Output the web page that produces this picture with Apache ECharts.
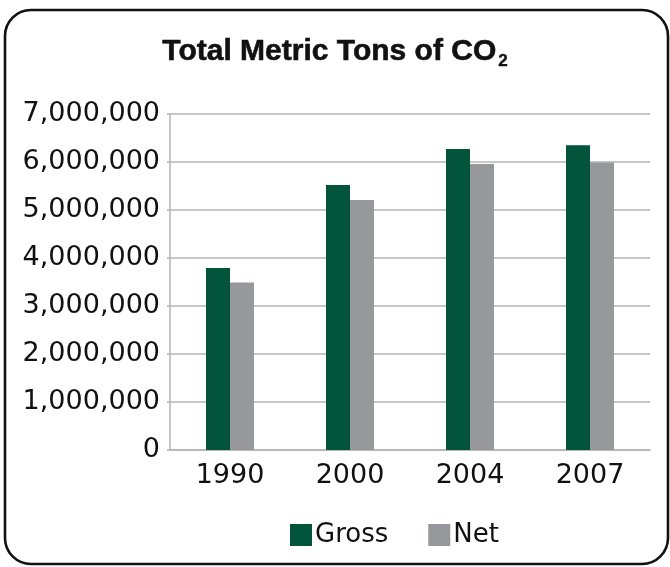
<!DOCTYPE html>
<html>
<head>
<meta charset="utf-8">
<script src="https://cdn.jsdelivr.net/npm/echarts@6/dist/echarts.min.js"></script>
<style>
  html, body { margin: 0; padding: 0; background: #ffffff; }
  #chart { width: 670px; height: 567px; }
</style>
</head>
<body>
<div id="chart"></div>
<script>
// Annual CO2 totals (metric tons)
const years = ['1990', '2000', '2004', '2007'];
const gross = [3790000, 5520000, 6270000, 6350000];
const net = [3490000, 5210000, 5960000, 5990000];
const seriesNames = ['Gross', 'Net'];

const GREEN = '#02553b';
const GRAY = '#97989b';
const GRID_LINE = '#b4b4b4';
const TEXT = '#111111';
const LABEL_FONT = '"DejaVu Sans", sans-serif';
const TITLE_FONT = '"Liberation Sans", Arial, sans-serif';

function withCommas(v) {
  return String(v).replace(/\B(?=(\d{3})+(?!\d))/g, ',');
}

const chart = echarts.init(document.getElementById('chart'), null, { renderer: 'canvas' });

chart.setOption({
  backgroundColor: '#ffffff',
  animation: false,
  graphic: [{
    type: 'rect',
    shape: { x: 5, y: 10, width: 663, height: 554, r: 26 },
    style: { fill: 'none', stroke: '#111111', lineWidth: 2.6 },
    silent: true,
    z: 100
  }],
  title: {
    text: '{t|Total Metric Tons of CO}{s|2}',
    left: 'center',
    top: 29,
    textStyle: {
      rich: {
        t: {
          fontFamily: TITLE_FONT,
          fontWeight: 'bold',
          fontSize: 30,
          color: TEXT,
          textBorderColor: TEXT,
          textBorderWidth: 0.6
        },
        s: {
          fontFamily: TITLE_FONT,
          fontWeight: 'bold',
          fontSize: 17,
          color: TEXT,
          textBorderColor: TEXT,
          textBorderWidth: 0.4,
          padding: [19, 0, 0, 2]
        }
      }
    }
  },
  legend: {
    data: seriesNames,
    left: 285,
    top: 517,
    icon: 'rect',
    itemWidth: 22,
    itemHeight: 22,
    itemGap: 40,
    textStyle: {
      fontFamily: LABEL_FONT,
      fontSize: 26,
      color: TEXT,
      padding: [0, 0, 0, -2]
    }
  },
  grid: {
    left: 170,
    right: 20,
    top: 114,
    bottom: 117,
    containLabel: false
  },
  xAxis: {
    type: 'category',
    data: years,
    axisLine: { show: true, lineStyle: { color: GRID_LINE, width: 1.5 } },
    axisTick: { show: false },
    axisLabel: {
      fontFamily: LABEL_FONT,
      fontSize: 27,
      color: TEXT,
      margin: 12
    }
  },
  yAxis: {
    type: 'value',
    min: 0,
    max: 7000000,
    interval: 1000000,
    axisLine: { show: true, lineStyle: { color: GRID_LINE, width: 1.5 } },
    axisTick: { show: true, length: 3, lineStyle: { color: GRID_LINE, width: 1.5 } },
    splitLine: { show: true, lineStyle: { color: GRID_LINE, width: 1.5 } },
    axisLabel: {
      fontFamily: LABEL_FONT,
      fontSize: 27,
      color: TEXT,
      margin: 10,
      formatter: withCommas
    }
  },
  series: [
    {
      name: seriesNames[0],
      type: 'bar',
      data: gross,
      barWidth: 24,
      barGap: '0%',
      itemStyle: { color: GREEN }
    },
    {
      name: seriesNames[1],
      type: 'bar',
      data: net,
      barWidth: 24,
      barGap: '0%',
      itemStyle: { color: GRAY }
    }
  ]
});
</script>
</body>
</html>
